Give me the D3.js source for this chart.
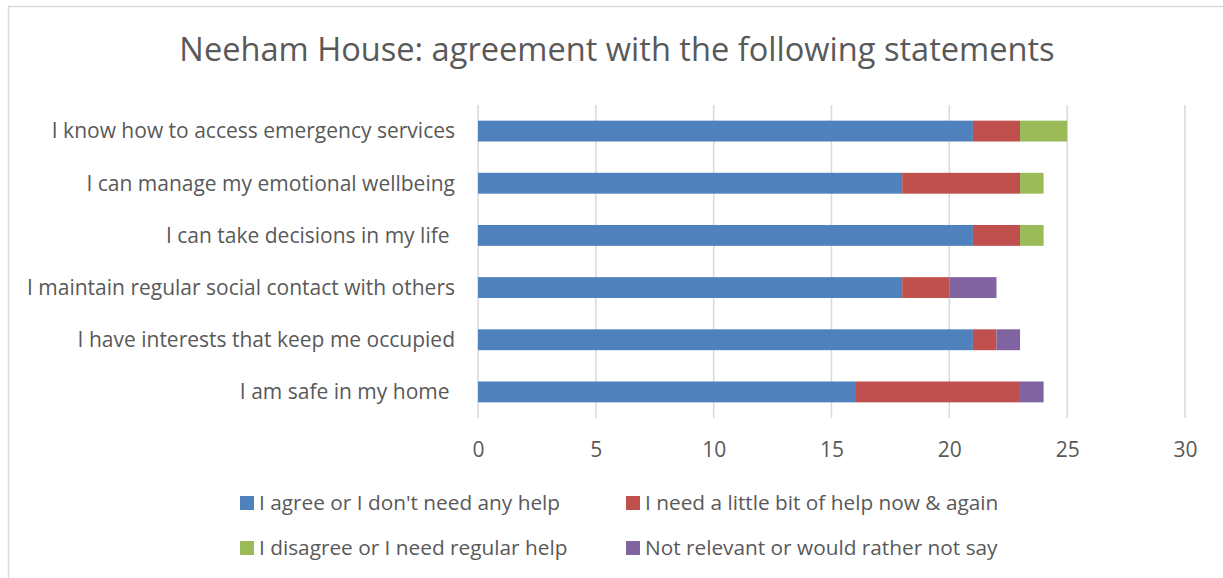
<!DOCTYPE html>
<html>
<head>
<meta charset="utf-8">
<script src="https://cdn.jsdelivr.net/npm/d3@7"></script>
<style>
  html, body { margin: 0; padding: 0; background: #fff; }
  svg text { font-family: "Open Sans", sans-serif; fill: #595959; white-space: pre; }
</style>
</head>
<body>
<svg id="chart" width="1223" height="578"></svg>
<script>
// Statements, top to bottom
const categories = [
  "I know how to access emergency services",
  "I can manage my emotional wellbeing",
  "I can take decisions in my life ",
  "I maintain regular social contact with others",
  "I have interests that keep me occupied",
  "I am safe in my home "
];

const seriesNames = [
  "I agree or I don't need any help",
  "I need a little bit of help now & again",
  "I disagree or I need regular help",
  "Not relevant or would rather not say"
];

// Response counts per statement
const agree      = [21, 18, 21, 18, 21, 16];
const littleHelp = [2, 5, 2, 2, 1, 7];
const regular    = [2, 1, 1, 0, 0, 0];
const notSay     = [0, 0, 0, 2, 1, 1];

const tickValues = [0, 5, 10, 15, 20, 25, 30];

const colors = ["#4f81bd", "#c0504d", "#9bbb59", "#8064a2"];

const rows = categories.map((c, i) => ({
  category: c,
  s0: agree[i], s1: littleHelp[i], s2: regular[i], s3: notSay[i]
}));

const keys = ["s0", "s1", "s2", "s3"];
const stacked = d3.stack().keys(keys)(rows);

const svg = d3.select("#chart");

// Outer chart frame
svg.append("rect")
  .attr("x", 8.5).attr("y", 6.5)
  .attr("width", 1240).attr("height", 600)
  .attr("fill", "none")
  .attr("stroke", "#d9d9d9")
  .attr("stroke-width", 1.5);

const plot = { left: 478, right: 1185, top: 105, bottom: 418 };

const x = d3.scaleLinear().domain([0, 30]).range([plot.left, plot.right]);
const y = d3.scaleBand().domain(categories)
  .range([plot.top, plot.bottom])
  .paddingInner(0.6).paddingOuter(0.3);

// Title
svg.append("text")
  .attr("x", 617).attr("y", 61)
  .attr("text-anchor", "middle")
  .style("font-size", "32.6px")
  .text("Neeham House: agreement with the following statements");

// Vertical gridlines
svg.append("g")
  .selectAll("line")
  .data(tickValues)
  .join("line")
  .attr("x1", d => x(d)).attr("x2", d => x(d))
  .attr("y1", plot.top).attr("y2", plot.bottom)
  .attr("stroke", "#d9d9d9")
  .attr("stroke-width", 1.5);

// Stacked bars
svg.append("g")
  .selectAll("g")
  .data(stacked)
  .join("g")
  .attr("fill", (d, i) => colors[i])
  .selectAll("rect")
  .data(d => d.filter(p => p[1] - p[0] > 0))
  .join("rect")
  .attr("x", d => x(d[0]))
  .attr("width", d => x(d[1]) - x(d[0]))
  .attr("y", d => y(d.data.category))
  .attr("height", y.bandwidth());

// X axis labels
const xAxis = d3.axisBottom(x).tickValues(tickValues).tickSize(0).tickPadding(0);
const xg = svg.append("g")
  .attr("transform", `translate(0, ${plot.bottom + 39})`)
  .call(xAxis);
xg.select(".domain").remove();
xg.selectAll("text")
  .attr("dy", 0)
  .style("font-size", "21px")
  .attr("fill", "#595959");

// Category labels
const yAxis = d3.axisLeft(y).tickSize(0).tickPadding(0);
const yg = svg.append("g")
  .attr("transform", `translate(${plot.left - 23}, 0)`)
  .call(yAxis);
yg.select(".domain").remove();
yg.selectAll("text")
  .attr("dy", "0.35em")
  .style("font-size", "21px")
  .attr("fill", "#595959");

// Legend, two columns by two rows
const legendCols = [240, 626];
const legendRows = [503, 548];
const legend = svg.append("g")
  .selectAll("g")
  .data(seriesNames)
  .join("g")
  .attr("transform", (d, i) => `translate(${legendCols[i % 2]}, ${legendRows[Math.floor(i / 2)]})`);

legend.append("rect")
  .attr("x", 0).attr("y", -7)
  .attr("width", 14).attr("height", 14)
  .attr("fill", (d, i) => colors[i]);

legend.append("text")
  .attr("x", 19).attr("y", 0)
  .attr("dy", "0.35em")
  .style("font-size", "20.8px")
  .text(d => d);
</script>
</body>
</html>
